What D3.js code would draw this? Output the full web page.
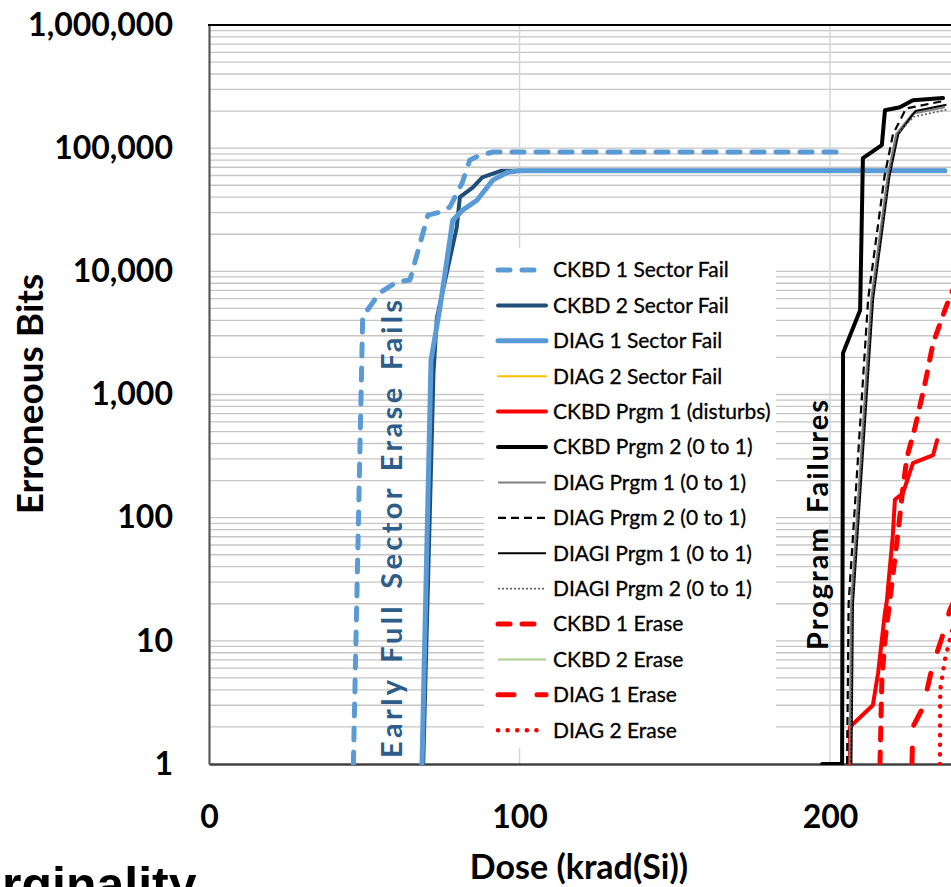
<!DOCTYPE html>
<html>
<head>
<meta charset="utf-8">
<script src="https://cdn.jsdelivr.net/npm/d3@7"></script>
<style>
  body { margin: 0; background: #fff; }
  svg { display: block; }
</style>
</head>
<body>
<svg id="chart" width="951" height="887"></svg>
<script>
// series values: [dose krad(Si), erroneous bits]
const ckbd1Sector = [[46.5,1],[49.5,4300],[55,6700],[60.5,8200],[64.7,8500],[70.5,28600],[74.4,30200],[77.6,33300],[81.5,52000],[84,80000],[87.3,87500],[91.5,93000],[204.2,93000]]
const ckbd2Sector = [[69,1],[72.3,1500],[73.4,4200],[79.8,22800],[80.8,40000],[85,48000],[88,58000],[94,65536],[237,65536]]
const diag1Sector = [[68.6,1],[71.5,1900],[74.4,5100],[78.5,26000],[81.7,31400],[86.3,37800],[91.4,55000],[96,63500],[100,65536],[237,65536]]
const diag2Sector = []
const ckbdPrgm1 = [[206.4,1],[206.4,2],[213.8,3],[215.5,5.5],[217.7,17],[218.3,21],[219.3,40],[220.2,70],[220.9,140],[223.5,158],[226.7,277],[233.2,322],[234.5,426]]
const ckbdPrgm2 = [[197.5,1],[203.9,1],[204.2,2170],[209.7,4840],[210.6,83000],[216.7,106000],[217.7,203000],[222.5,215000],[226.7,245000],[236.4,255000]]
const diagPrgm1 = [[206.3,1],[206.8,20],[213.3,6000],[218.6,60000],[221.3,130000],[226.5,190000],[237,215000]]
const diagPrgm2 = [[205.5,1],[206,20],[212.3,6000],[217.6,60000],[220.3,130000],[224.5,210000],[236,240000]]
const diagiPrgm1 = [[206.9,1],[207.4,20],[213.9,6000],[219.2,60000],[222,130000],[227.5,200000],[237.5,225000]]
const diagiPrgm2 = [[206.6,1],[207.1,20],[213.6,6000],[218.9,60000],[221.6,130000],[227,180000],[237.5,205000]]
const ckbd1Erase = [[216.1,1],[216.7,4.8],[217.7,10],[221.9,75],[223.5,177],[224.8,310],[227.4,543],[230.6,1230],[233.2,2610],[237,4840],[238.6,6170],[242,10000]]
const ckbd2Erase = []
const diag1Erase = [[226.4,1],[226.7,2],[230,2.9],[232.9,6.1],[236.1,10.7],[238.6,17.8],[245,40]]
const diag2Erase = [[235.4,1],[235.5,4],[237,7],[239.3,12],[246,25]]

const seriesNames = ["CKBD 1 Sector Fail", "CKBD 2 Sector Fail", "DIAG 1 Sector Fail", "DIAG 2 Sector Fail",
  "CKBD Prgm 1 (disturbs)", "CKBD Prgm 2 (0 to 1)", "DIAG Prgm 1 (0 to 1)", "DIAG Prgm 2 (0 to 1)",
  "DIAGI Prgm 1 (0 to 1)", "DIAGI Prgm 2 (0 to 1)", "CKBD 1 Erase", "CKBD 2 Erase", "DIAG 1 Erase", "DIAG 2 Erase"]
const seriesData = [ckbd1Sector, ckbd2Sector, diag1Sector, diag2Sector, ckbdPrgm1, ckbdPrgm2,
  diagPrgm1, diagPrgm2, diagiPrgm1, diagiPrgm2, ckbd1Erase, ckbd2Erase, diag1Erase, diag2Erase]

const yTicks = [1, 10, 100, 1000, 10000, 100000, 1000000]
const xTicks = [0, 100, 200]

// line styles, same order as the series
const styles = [
  { color: "#5b9bd5", width: 5, dash: "12,12", cap: "round" },
  { color: "#1f4e79", width: 4, dash: null, cap: "round" },
  { color: "#5b9bd5", width: 5, dash: null, cap: "round" },
  { color: "#ffc000", width: 2, dash: null, cap: "round" },
  { color: "#ff0000", width: 4, dash: null, cap: "round" },
  { color: "#000000", width: 4, dash: null, cap: "round" },
  { color: "#808080", width: 2, dash: null, cap: "butt" },
  { color: "#000000", width: 2.2, dash: "8,5", cap: "butt" },
  { color: "#000000", width: 2, dash: null, cap: "butt" },
  { color: "#606060", width: 1.6, dash: "2,2", cap: "butt" },
  { color: "#ff0000", width: 5, dash: "12,12", cap: "round" },
  { color: "#a9d18e", width: 2, dash: null, cap: "butt" },
  { color: "#ff0000", width: 5, dash: "16,23", cap: "round" },
  { color: "#ff0000", width: 4.5, dash: "0.1,9.5", cap: "round" }
]

const FONT = "Lato, 'Open Sans', sans-serif"
const svg = d3.select("#chart")
const W = 951
const plotTop = 25, plotBottom = 764, plotLeft = 209

const x = d3.scaleLinear().domain([0, 250]).range([plotLeft, plotLeft + 2.5 * 310.5])
const y = d3.scaleLog().domain([1, 1e6]).range([plotBottom, plotTop])

svg.append("defs").append("clipPath").attr("id", "plotclip")
  .append("rect").attr("x", plotLeft).attr("y", plotTop - 5)
  .attr("width", W - plotLeft).attr("height", plotBottom - plotTop + 6)

// gridlines
let minor = []
for (let k = 0; k < 6; k++) {
  for (let m = 1; m <= 9; m++) {
    let v = m * Math.pow(10, k)
    if (v > 1 && v < 1e6) minor.push(v)
  }
}
const grid = svg.append("g").attr("class", "grid")
grid.selectAll("line.h").data(minor).join("line")
  .attr("class", "h")
  .attr("x1", plotLeft).attr("x2", W)
  .attr("y1", d => y(d)).attr("y2", d => y(d))
  .attr("stroke", "#c6c6c6").attr("stroke-width", 1.3)
grid.selectAll("line.v").data(xTicks.filter(d => d > 0)).join("line")
  .attr("class", "v")
  .attr("x1", d => x(d)).attr("x2", d => x(d))
  .attr("y1", plotTop).attr("y2", plotBottom)
  .attr("stroke", "#d6d6d6").attr("stroke-width", 1.5)

// legend background sits over the grid
const legendX = 484, legendY = 248
svg.append("rect").attr("x", legendX).attr("y", legendY)
  .attr("width", 292).attr("height", 500).attr("fill", "#fff")

// axes
const yAxis = svg.append("g")
  .attr("transform", "translate(" + plotLeft + ",0)")
  .call(d3.axisLeft(y).tickValues(yTicks).tickFormat(d3.format(",")).tickSize(0).tickPadding(36))
yAxis.select(".domain").attr("stroke", "#595959").attr("stroke-width", 2.2)
yAxis.selectAll("text")
  .attr("font-family", FONT)
  .attr("font-weight", "bold").attr("font-size", 32).attr("fill", "#000")

const xAxis = svg.append("g")
  .attr("transform", "translate(0," + plotBottom + ")")
  .call(d3.axisBottom(x).tickValues(xTicks).tickSize(0).tickSizeOuter(0))
xAxis.select(".domain").attr("stroke", "#404040").attr("stroke-width", 2.5)
xAxis.selectAll("text")
  .attr("y", 53).attr("dy", "0.35em")
  .attr("font-family", FONT)
  .attr("font-weight", "bold").attr("font-size", 32).attr("fill", "#000")

// top border
svg.append("line").attr("x1", plotLeft - 1).attr("x2", W)
  .attr("y1", plotTop).attr("y2", plotTop)
  .attr("stroke", "#000").attr("stroke-width", 2.2)

// series
const line = d3.line().x(d => x(d[0])).y(d => y(d[1]))
const lines = svg.append("g").attr("clip-path", "url(#plotclip)")
seriesData.forEach((data, i) => {
  if (!data.length) return
  const s = styles[i]
  lines.append("path")
    .attr("d", line(data))
    .attr("fill", "none")
    .attr("stroke", s.color)
    .attr("stroke-width", s.width)
    .attr("stroke-dasharray", s.dash)
    .attr("stroke-linecap", s.cap)
    .attr("stroke-linejoin", "round")
})

// legend
const legend = svg.append("g")
seriesNames.forEach((name, i) => {
  const s = styles[i]
  const cy = 270 + i * 35.4
  legend.append("line")
    .attr("x1", 498).attr("x2", 546).attr("y1", cy).attr("y2", cy)
    .attr("stroke", s.color).attr("stroke-width", s.width)
    .attr("stroke-dasharray", s.dash).attr("stroke-linecap", s.cap)
  legend.append("text")
    .attr("x", 553).attr("y", cy).attr("dy", "0.35em")
    .attr("font-family", FONT)
    .attr("font-size", 21).attr("fill", "#000")
    .attr("stroke", "#000").attr("stroke-width", 0.3)
    .text(name)
})

// annotations
svg.append("text")
  .attr("transform", "translate(392,758) rotate(-90)")
  .attr("dy", "0.35em")
  .attr("font-family", FONT)
  .attr("font-weight", "bold").attr("font-size", 29).attr("fill", "#2e5d8c")
  .attr("word-spacing", 4)
  .attr("textLength", 458).attr("lengthAdjust", "spacing")
  .text("Early Full Sector Erase Fails")

svg.append("text")
  .attr("transform", "translate(818,650) rotate(-90)")
  .attr("dy", "0.35em")
  .attr("font-family", FONT)
  .attr("font-weight", "bold").attr("font-size", 29).attr("fill", "#000")
  .attr("word-spacing", 4)
  .attr("textLength", 250).attr("lengthAdjust", "spacing")
  .text("Program Failures")

// axis titles
svg.append("text")
  .attr("transform", "translate(30,394) rotate(-90)")
  .attr("text-anchor", "middle").attr("dy", "0.35em")
  .attr("font-family", FONT)
  .attr("font-weight", "bold").attr("font-size", 37).attr("fill", "#000")
  .text("Erroneous Bits")

svg.append("text")
  .attr("x", 579).attr("y", 867).attr("text-anchor", "middle").attr("dy", "0.35em")
  .attr("font-family", FONT)
  .attr("font-weight", "bold").attr("font-size", 34).attr("fill", "#000")
  .text("Dose (krad(Si))")

// cut-off slide title at the bottom edge, as in the source
svg.append("text")
  .attr("x", 2).attr("y", 902)
  .attr("font-family", "'Liberation Sans', Arial, sans-serif")
  .attr("font-weight", "bold").attr("font-size", 50).attr("fill", "#000")
  .text("rginality")
</script>
</body>
</html>
